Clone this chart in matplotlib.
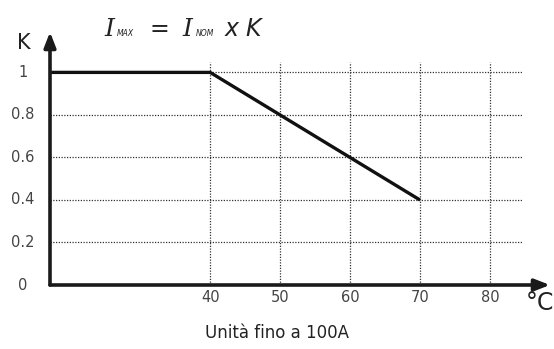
"""
Derating curve: K factor vs ambient temperature (unita fino a 100A)
"""

import matplotlib
matplotlib.use("Agg")
from matplotlib import pyplot as plt
from matplotlib import transforms

# data
temps = [17.1, 40, 70]
k_factor = [1.0, 1.0, 0.4]
x_ticks = [40, 50, 60, 70, 80]
y_ticks = [0, 0.2, 0.4, 0.6, 0.8, 1.0]
y_tick_labels = ['0', '0.2', '0.4', '0.6', '0.8', '1']
caption = 'Unità fino a 100A'

W, H = 554, 349
fig = plt.figure(figsize=(W / 100, H / 100), dpi=100)
# axes box in pixel coordinates: origin at (50, 285), arrows end at (550, 32)
ax = fig.add_axes([50 / W, (H - 285) / H, 500 / W, 253 / H])
ax.set_xlim(17.1, 88.6)
ax.set_ylim(0, 1.19)
ax.axis('off')

grid_kw = dict(color='#333333', linewidth=0.9, linestyle=(0, (1, 1.2)), zorder=1)
ax.hlines(y_ticks[1:], 17.1, 84.6, **grid_kw)
ax.vlines(x_ticks, 0, 1.05, **grid_kw)

ax.plot(temps, k_factor, color='#111111', linewidth=2.4, solid_capstyle='butt', zorder=3)

# axes with arrow heads
arrow = dict(arrowstyle='-|>,head_length=0.9,head_width=0.35', lw=2.6, color='#1a1a1a',
             shrinkA=0, shrinkB=0)
ax.annotate('', xy=(1, 0), xytext=(0, 0), xycoords='axes fraction', arrowprops=arrow, zorder=4)
ax.annotate('', xy=(0, 1), xytext=(0, 0), xycoords='axes fraction', arrowprops=arrow, zorder=4)

tick_color = '#444444'
ytrans = transforms.blended_transform_factory(fig.transFigure, ax.transData)
for y, lab in zip(y_ticks, y_tick_labels):
    ax.text(23 / W, y, lab, transform=ytrans, ha='center', va='center',
            fontsize=10.5, color=tick_color)
xtrans = transforms.blended_transform_factory(ax.transData, fig.transFigure)
for x in x_ticks:
    ax.text(x, (H - 298) / H, str(x), transform=xtrans, ha='center', va='center',
            fontsize=10.5, color=tick_color)

# axis names
fig.text(24 / W, (H - 43) / H, 'K', ha='center', va='center', fontsize=15, color='#222222')
fig.text(540 / W, (H - 303) / H, '°C', ha='center', va='center', fontsize=17, color='#222222')

# formula I_MAX = I_NOM x K
base = (H - 36) / H
big = dict(fontsize=17, style='italic', color='#222222', va='baseline')
serif = dict(big, family='DejaVu Serif', fontsize=18)
small = dict(fontsize=5.5, style='italic', color='#222222', va='baseline')
fig.text(104 / W, base, 'I', **serif)
fig.text(117 / W, base, 'MAX', **small)
fig.text(150 / W, base, '=', **big)
fig.text(182 / W, base, 'I', **serif)
fig.text(196 / W, base, 'NOM', **small)
fig.text(225 / W, base, 'x', **big)
fig.text(245 / W, base, 'K', **big)

fig.text(277 / W, (H - 333) / H, caption, ha='center', va='center', fontsize=12, color='#222222')

fig.savefig('out.png', dpi=100)
